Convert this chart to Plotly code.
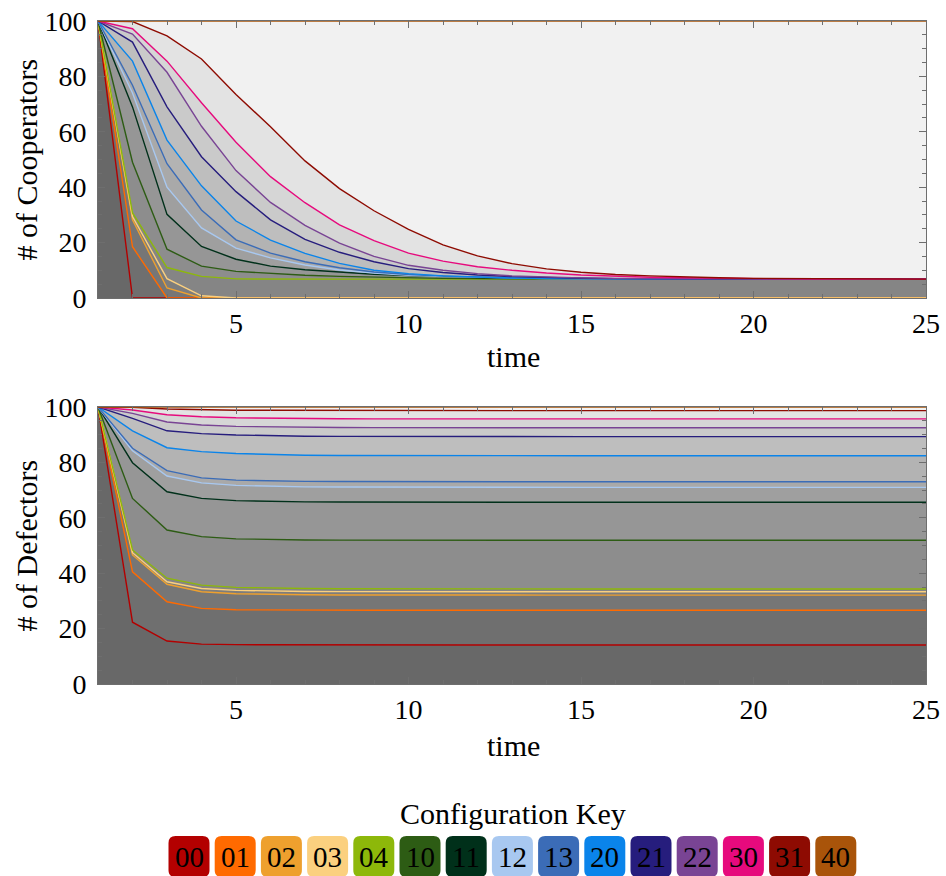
import plotly.graph_objects as go

W, H = 946, 876

time = list(range(1, 26))
configs = ["00", "01", "02", "03", "04", "10", "11", "12", "13", "20", "21", "22", "30", "31", "40"]
colors = ["#b30000", "#ff6a00", "#eea02e", "#fbd07f", "#8db80a", "#2d5c14", "#00301a", "#a8c8f0",
          "#3b6cb7", "#0a84ea", "#261d7d", "#794494", "#e60a7d", "#8e0b02", "#a9540a"]

# ---- # of Cooperators ----
coop_00 = [100, 0, 0, 0, 0, 0, 0, 0, 0, 0, 0, 0, 0, 0, 0, 0, 0, 0, 0, 0, 0, 0, 0, 0, 0]
coop_01 = [100, 18.5, 0, 0, 0, 0, 0, 0, 0, 0, 0, 0, 0, 0, 0, 0, 0, 0, 0, 0, 0, 0, 0, 0, 0]
coop_02 = [100, 28.2, 3.6, 0, 0, 0, 0, 0, 0, 0, 0, 0, 0, 0, 0, 0, 0, 0, 0, 0, 0, 0, 0, 0, 0]
coop_03 = [100, 29.4, 7.0, 0.8, 0, 0, 0, 0, 0, 0, 0, 0, 0, 0, 0, 0, 0, 0, 0, 0, 0, 0, 0, 0, 0]
coop_04 = [100, 30.7, 11.0, 7.8, 6.9, 6.8, 6.8, 6.8, 6.8, 6.8, 6.8, 6.8, 6.8, 6.8, 6.8, 6.8, 6.8, 6.8, 6.8, 6.8, 6.8, 6.8, 6.8, 6.8, 6.8]
coop_10 = [100, 49.0, 17.6, 11.5, 9.6, 8.8, 8.2, 7.8, 7.5, 7.3, 7.1, 7.0, 6.9, 6.85, 6.8, 6.8, 6.8, 6.8, 6.8, 6.8, 6.8, 6.8, 6.8, 6.8, 6.8]
coop_11 = [100, 69.0, 30.2, 18.6, 14.0, 11.5, 10.2, 9.3, 8.6, 8.1, 7.7, 7.4, 7.2, 7.05, 6.95, 6.9, 6.85, 6.8, 6.8, 6.8, 6.8, 6.8, 6.8, 6.8, 6.8]
coop_12 = [100, 74.0, 40.0, 25.3, 18.0, 14.5, 11.9, 10.1, 9.0, 8.2, 7.7, 7.4, 7.2, 7.05, 6.95, 6.9, 6.85, 6.8, 6.8, 6.8, 6.8, 6.8, 6.8, 6.8, 6.8]
coop_13 = [100, 76.8, 48.5, 31.8, 21.0, 16.2, 13.1, 10.9, 9.4, 8.5, 7.9, 7.5, 7.25, 7.1, 7.0, 6.9, 6.85, 6.8, 6.8, 6.8, 6.8, 6.8, 6.8, 6.8, 6.8]
coop_20 = [100, 85.5, 57.0, 40.5, 27.8, 20.9, 16.1, 12.5, 10.0, 8.8, 8.0, 7.5, 7.2, 7.05, 6.95, 6.9, 6.85, 6.8, 6.8, 6.8, 6.8, 6.8, 6.8, 6.8, 6.8]
coop_21 = [100, 92.4, 69.0, 51.0, 38.4, 28.2, 21.2, 16.5, 13.1, 10.6, 9.2, 8.3, 7.7, 7.35, 7.15, 7.0, 6.9, 6.85, 6.8, 6.8, 6.8, 6.8, 6.8, 6.8, 6.8]
coop_22 = [100, 95.3, 81.5, 62.0, 46.0, 34.5, 26.2, 19.8, 15.0, 11.8, 10.0, 8.8, 8.0, 7.5, 7.25, 7.1, 7.0, 6.9, 6.85, 6.8, 6.8, 6.8, 6.8, 6.8, 6.8]
coop_30 = [100, 97.2, 85.5, 70.5, 56.2, 43.8, 34.4, 26.4, 20.7, 16.2, 13.3, 11.3, 10.0, 9.0, 8.3, 7.8, 7.5, 7.3, 7.1, 7.0, 6.9, 6.85, 6.8, 6.8, 6.8]
coop_31 = [100, 99.8, 94.6, 86.3, 73.5, 61.8, 49.5, 39.5, 31.5, 24.8, 19.2, 15.2, 12.4, 10.5, 9.3, 8.5, 8.0, 7.6, 7.3, 7.1, 7.0, 6.9, 6.85, 6.8, 6.8]
coop_40 = [100, 100, 100, 100, 100, 100, 100, 100, 100, 100, 100, 100, 100, 100, 100, 100, 100, 100, 100, 100, 100, 100, 100, 100, 100]

# ---- # of Defectors ----
def_00 = [100, 22.3, 15.5, 14.4, 14.2, 14.15, 14.1, 14.1, 14.1, 14.1, 14.1, 14.1, 14.1, 14.1, 14.1, 14.1, 14.1, 14.1, 14.1, 14.1, 14.1, 14.1, 14.1, 14.1, 14.1]
def_01 = [100, 40.5, 29.7, 27.3, 26.8, 26.7, 26.65, 26.6, 26.6, 26.6, 26.6, 26.6, 26.6, 26.6, 26.6, 26.6, 26.6, 26.6, 26.6, 26.6, 26.6, 26.6, 26.6, 26.6, 26.6]
def_02 = [100, 46.6, 36.0, 33.3, 32.6, 32.3, 32.2, 32.15, 32.1, 32.1, 32.1, 32.1, 32.1, 32.1, 32.1, 32.1, 32.1, 32.1, 32.1, 32.1, 32.1, 32.1, 32.1, 32.1, 32.1]
def_03 = [100, 47.4, 36.9, 34.5, 33.8, 33.5, 33.4, 33.35, 33.3, 33.3, 33.3, 33.3, 33.3, 33.3, 33.3, 33.3, 33.3, 33.3, 33.3, 33.3, 33.3, 33.3, 33.3, 33.3, 33.3]
def_04 = [100, 48.4, 38.2, 35.7, 34.9, 34.6, 34.45, 34.4, 34.35, 34.3, 34.3, 34.3, 34.3, 34.3, 34.3, 34.3, 34.3, 34.3, 34.3, 34.3, 34.3, 34.3, 34.3, 34.3, 34.3]
def_10 = [100, 67.0, 55.6, 53.2, 52.4, 52.1, 52.0, 51.95, 51.9, 51.9, 51.9, 51.9, 51.9, 51.9, 51.9, 51.9, 51.9, 51.9, 51.9, 51.9, 51.9, 51.9, 51.9, 51.9, 51.9]
def_11 = [100, 79.9, 69.4, 67.0, 66.2, 65.9, 65.75, 65.7, 65.65, 65.6, 65.6, 65.6, 65.6, 65.6, 65.6, 65.6, 65.6, 65.6, 65.6, 65.6, 65.6, 65.6, 65.6, 65.6, 65.6]
def_12 = [100, 84.2, 75.1, 72.6, 71.7, 71.3, 71.15, 71.1, 71.05, 71.0, 71.0, 71.0, 71.0, 71.0, 71.0, 71.0, 71.0, 71.0, 71.0, 71.0, 71.0, 71.0, 71.0, 71.0, 71.0]
def_13 = [100, 85.1, 77.0, 74.4, 73.6, 73.3, 73.15, 73.1, 73.05, 73.0, 73.0, 73.0, 73.0, 73.0, 73.0, 73.0, 73.0, 73.0, 73.0, 73.0, 73.0, 73.0, 73.0, 73.0, 73.0]
def_20 = [100, 91.4, 85.3, 83.9, 83.2, 82.8, 82.6, 82.5, 82.45, 82.4, 82.4, 82.4, 82.4, 82.4, 82.4, 82.4, 82.4, 82.4, 82.4, 82.4, 82.4, 82.4, 82.4, 82.4, 82.4]
def_21 = [100, 95.9, 91.4, 90.4, 89.9, 89.6, 89.45, 89.4, 89.35, 89.3, 89.3, 89.3, 89.3, 89.3, 89.3, 89.3, 89.3, 89.3, 89.3, 89.3, 89.3, 89.3, 89.3, 89.3, 89.3]
def_22 = [100, 97.7, 94.6, 93.5, 93.0, 92.8, 92.65, 92.6, 92.55, 92.5, 92.5, 92.5, 92.5, 92.5, 92.5, 92.5, 92.5, 92.5, 92.5, 92.5, 92.5, 92.5, 92.5, 92.5, 92.5]
def_30 = [100, 98.9, 97.2, 96.5, 96.1, 95.9, 95.8, 95.75, 95.7, 95.7, 95.7, 95.7, 95.7, 95.7, 95.7, 95.7, 95.7, 95.7, 95.7, 95.7, 95.7, 95.7, 95.7, 95.7, 95.7]
def_31 = [100, 99.9, 99.3, 99.0, 98.85, 98.8, 98.75, 98.7, 98.7, 98.7, 98.7, 98.7, 98.7, 98.7, 98.7, 98.7, 98.7, 98.7, 98.7, 98.7, 98.7, 98.7, 98.7, 98.7, 98.7]
def_40 = [100, 100, 100, 100, 100, 100, 100, 100, 100, 100, 100, 100, 100, 100, 100, 100, 100, 100, 100, 100, 100, 100, 100, 100, 100]

coop = [coop_00, coop_01, coop_02, coop_03, coop_04, coop_10, coop_11, coop_12, coop_13,
        coop_20, coop_21, coop_22, coop_30, coop_31, coop_40]
defe = [def_00, def_01, def_02, def_03, def_04, def_10, def_11, def_12, def_13,
        def_20, def_21, def_22, def_30, def_31, def_40]
for s in coop + defe:
    assert len(s) == 25

SERIF = "Liberation Serif, Times New Roman, serif"
FILL = "rgba(0,0,0,0.054)"

fig = go.Figure()

for axes, data in (("x", coop), ("x2", defe)):
    yname = "y" if axes == "x" else "y2"
    for ys in data:
        fig.add_trace(go.Scatter(x=time, y=ys, xaxis=axes, yaxis=yname, mode="lines",
                                 line=dict(width=0), fill="tozeroy", fillcolor=FILL,
                                 hoverinfo="skip", showlegend=False))
    for ys, c, name in zip(data, colors, configs):
        fig.add_trace(go.Scatter(x=time, y=ys, xaxis=axes, yaxis=yname, mode="lines",
                                 line=dict(width=1.4, color=c), name=name, showlegend=False))

# pixel geometry
PL, PR = 98, 926
TOP1, BOT1 = 21, 298
TOP2, BOT2 = 407, 684

def px(v):
    return v / W

def py(v):
    return 1 - v / H

axis_common = dict(showline=True, linecolor="#6e6e6e", linewidth=1, mirror="ticks",
                   ticks="inside", tickcolor="#6e6e6e", showgrid=False, zeroline=False,
                   automargin=False,
                   tickfont=dict(family=SERIF, size=28, color="black"))

xcommon = dict(axis_common, range=[1, 25], tick0=0, dtick=5, ticklen=7,
               minor=dict(dtick=1, ticks="inside", ticklen=4, tickcolor="#6e6e6e"),
               ticklabelstandoff=0, domain=[px(PL), px(PR)])
ycommon = dict(axis_common, range=[0, 100], dtick=20, ticklen=7,
               minor=dict(dtick=5, ticks="inside", ticklen=4, tickcolor="#6e6e6e"),
               ticklabelstandoff=5)

fig.update_layout(
    width=W, height=H, margin=dict(l=0, r=0, t=0, b=0, autoexpand=False),
    paper_bgcolor="white", plot_bgcolor="white", showlegend=False,
    xaxis=dict(xcommon, anchor="y"),
    yaxis=dict(ycommon, anchor="x", domain=[py(BOT1), py(TOP1)]),
    xaxis2=dict(xcommon, anchor="y2"),
    yaxis2=dict(ycommon, anchor="x2", domain=[py(BOT2), py(TOP2)]),
)

ann = []
tfont = dict(family=SERIF, size=30, color="black")

def label(text, x, y, font, angle=0):
    ann.append(dict(text=text, x=px(x), y=py(y), xref="paper", yref="paper",
                    xanchor="center", yanchor="middle", textangle=angle,
                    showarrow=False, font=font))

label("# of Cooperators", 26, (TOP1 + BOT1) / 2, tfont, -90)
label("# of Defectors", 26, (TOP2 + BOT2) / 2, tfont, -90)
label("time", 513, 357, tfont)
label("time", 513, 745, tfont)
label("Configuration Key", 513, 813, tfont)

# configuration key boxes
shapes = []
BW, BH, R = 41, 41, 7
X0, STEP = 189, 46.2
YT = 836
for i, (name, c) in enumerate(zip(configs, colors)):
    cx = X0 + STEP * i
    l, r = cx - BW / 2, cx + BW / 2
    t, b = YT, YT + BH
    path = (f"M {px(l + R)},{py(t)} L {px(r - R)},{py(t)} "
            f"Q {px(r)},{py(t)} {px(r)},{py(t + R)} L {px(r)},{py(b - R)} "
            f"Q {px(r)},{py(b)} {px(r - R)},{py(b)} L {px(l + R)},{py(b)} "
            f"Q {px(l)},{py(b)} {px(l)},{py(b - R)} L {px(l)},{py(t + R)} "
            f"Q {px(l)},{py(t)} {px(l + R)},{py(t)} Z")
    shapes.append(dict(type="path", path=path, xref="paper", yref="paper",
                       fillcolor=c, line=dict(width=0)))
    label(name, cx, t + BH / 2, dict(family=SERIF, size=29, color="black"))

fig.update_layout(annotations=ann, shapes=shapes)
fig.write_html("out.html")
